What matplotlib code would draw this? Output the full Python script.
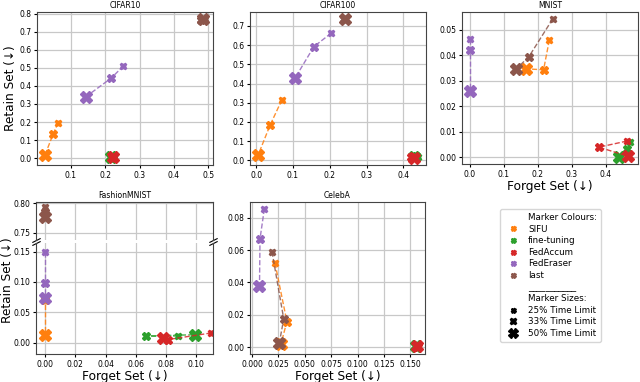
import matplotlib
matplotlib.use("Agg")
from matplotlib import pyplot as plt
from matplotlib.lines import Line2D

methods = ["SIFU", "fine-tuning", "FedAccum", "FedEraser", "last"]
colours = ["tab:orange", "tab:green", "tab:red", "tab:purple", "tab:brown"]
time_limits = ["25% Time Limit", "33% Time Limit", "50% Time Limit"]
marker_sizes = [5, 6.3, 8]

# one row per method, values for 25% / 33% / 50% time limit
cifar10_x = [[0.063, 0.049, 0.025],
             [0.226, 0.222, 0.218],
             [0.224, 0.220, 0.222],
             [0.253, 0.217, 0.143],
             [0.490, 0.478, 0.484]]
cifar10_y = [[0.196, 0.135, 0.017],
             [0.002, 0.000, 0.004],
             [0.008, 0.003, 0.005],
             [0.511, 0.443, 0.339],
             [0.772, 0.768, 0.770]]

cifar100_x = [[0.070, 0.038, 0.005],
              [0.440, 0.435, 0.430],
              [0.425, 0.420, 0.430],
              [0.204, 0.157, 0.106],
              [0.241, 0.240, 0.241]]
cifar100_y = [[0.315, 0.184, 0.026],
              [0.020, 0.025, 0.015],
              [0.015, 0.020, 0.012],
              [0.662, 0.592, 0.429],
              [0.735, 0.736, 0.735]]

mnist_x = [[0.234, 0.217, 0.164],
           [0.472, 0.463, 0.439],
           [0.463, 0.380, 0.467],
           [0.000, 0.000, 0.000],
           [0.244, 0.174, 0.137]]
mnist_y = [[0.0460, 0.0343, 0.0347],
           [0.0059, 0.0033, 0.0000],
           [0.0063, 0.0039, 0.0003],
           [0.0465, 0.0420, 0.0260],
           [0.0543, 0.0395, 0.0347]]

fashion_x = [[0.000, 0.000, 0.000],
             [0.088, 0.067, 0.099],
             [0.110, 0.081, 0.078],
             [0.000, 0.000, 0.000],
             [0.000, 0.000, 0.000]]
fashion_y = [[0.075, 0.070, 0.012],
             [0.011, 0.011, 0.013],
             [0.016, 0.005, 0.008],
             [0.150, 0.0985, 0.074],
             [0.794, 0.786, 0.777]]

celeba_x = [[0.0217, 0.0330, 0.0274],
            [0.1570, 0.1560, 0.1550],
            [0.1560, 0.1570, 0.1560],
            [0.0116, 0.0075, 0.0070],
            [0.0189, 0.0300, 0.0258]]
celeba_y = [[0.0520, 0.0158, 0.0020],
            [0.0000, 0.0010, 0.0005],
            [0.0010, 0.0000, 0.0008],
            [0.0855, 0.0670, 0.0375],
            [0.0590, 0.0174, 0.0026]]

W, H = 640, 382
fig = plt.figure(figsize=(6.4, 3.82), dpi=100)


def box(l, r, t, b):
	return [l / W, 1 - b / H, (r - l) / W, (b - t) / H]


def draw(ax, xs, ys):
	for i, c in enumerate(colours):
		ax.plot(xs[i], ys[i], "--", color=c, lw=1, alpha=0.85)
		for j in range(3):
			ax.plot(xs[i][j], ys[i][j], "X", color=c, ms=marker_sizes[j])


def style(ax):
	ax.grid(True, color="#c8c8c8", lw=0.9)
	ax.set_axisbelow(True)
	ax.tick_params(labelsize=5.5, length=2.5, pad=1.5)
	for s in ax.spines.values():
		s.set_color("#444444")
		s.set_linewidth(0.8)


ax1 = fig.add_axes(box(37, 213, 12, 165))
draw(ax1, cifar10_x, cifar10_y)
ax1.set_title("CIFAR10", fontsize=5.5, pad=3)
ax1.set_ylabel("Retain Set (↓)", fontsize=8.7, labelpad=2)
style(ax1)

ax2 = fig.add_axes(box(250, 426, 12, 165))
draw(ax2, cifar100_x, cifar100_y)
ax2.set_title("CIFAR100", fontsize=5.5, pad=3)
style(ax2)

ax3 = fig.add_axes(box(462, 638, 12, 164))
draw(ax3, mnist_x, mnist_y)
ax3.set_title("MNIST", fontsize=5.5, pad=3)
ax3.set_xlabel("Forget Set (↓)", fontsize=8.7, labelpad=1)
style(ax3)

# FashionMNIST with a broken y axis
ax4t = fig.add_axes(box(36, 213, 202, 240))
ax4b = fig.add_axes(box(36, 213, 243, 354), sharex=ax4t)
draw(ax4t, fashion_x, fashion_y)
draw(ax4b, fashion_x, fashion_y)
ax4t.set_ylim(0.738, 0.802)
ax4b.set_ylim(-0.0187, 0.164)
ax4t.set_xlim(-0.006, 0.111)
ax4t.set_yticks([0.75, 0.80])
ax4b.set_yticks([0.00, 0.05, 0.10, 0.15])
ax4t.set_title("FashionMNIST", fontsize=5.5, pad=3)
ax4b.set_xlabel("Forget Set (↓)", fontsize=8.7, labelpad=1)
style(ax4t)
style(ax4b)
ax4t.spines["bottom"].set_visible(False)
ax4b.spines["top"].set_visible(False)
ax4t.tick_params(bottom=False, labelbottom=False)
d = .5
kw = dict(marker=[(-1, -d), (1, d)], markersize=6, linestyle="none",
          color="k", mec="k", mew=0.8, clip_on=False)
ax4t.plot([0, 1], [0, 0], transform=ax4t.transAxes, **kw)
ax4b.plot([0, 1], [1, 1], transform=ax4b.transAxes, **kw)
fig.text(0.011, 1 - 280 / H, "Retain Set (↓)", fontsize=8.7, rotation=90,
         ha="center", va="center")

ax5 = fig.add_axes(box(250, 425, 202, 354))
draw(ax5, celeba_x, celeba_y)
ax5.set_xlim(-0.002, 0.164)
ax5.set_title("CelebA", fontsize=5.5, pad=3)
ax5.set_xlabel("Forget Set (↓)", fontsize=8.7, labelpad=1)
style(ax5)

handles = [Line2D([], [], ls="none")]
labels = ["Marker Colours:"]
for m, c in zip(methods, colours):
	handles.append(Line2D([], [], ls="none", marker="X", color=c, ms=3.6))
	labels.append(m)
handles.append(Line2D([], [], ls="none"))
labels.append("___________")
handles.append(Line2D([], [], ls="none"))
labels.append("Marker Sizes:")
for t, s in zip(time_limits, [3.6, 4.8, 6.5]):
	handles.append(Line2D([], [], ls="none", marker="X", color="k", ms=s))
	labels.append(t)
fig.legend(handles, labels, loc="center", bbox_to_anchor=(550.5 / W, 1 - 275.5 / H),
           fontsize=6.3, labelspacing=0.3)

fig.savefig("out.png", dpi=100)
